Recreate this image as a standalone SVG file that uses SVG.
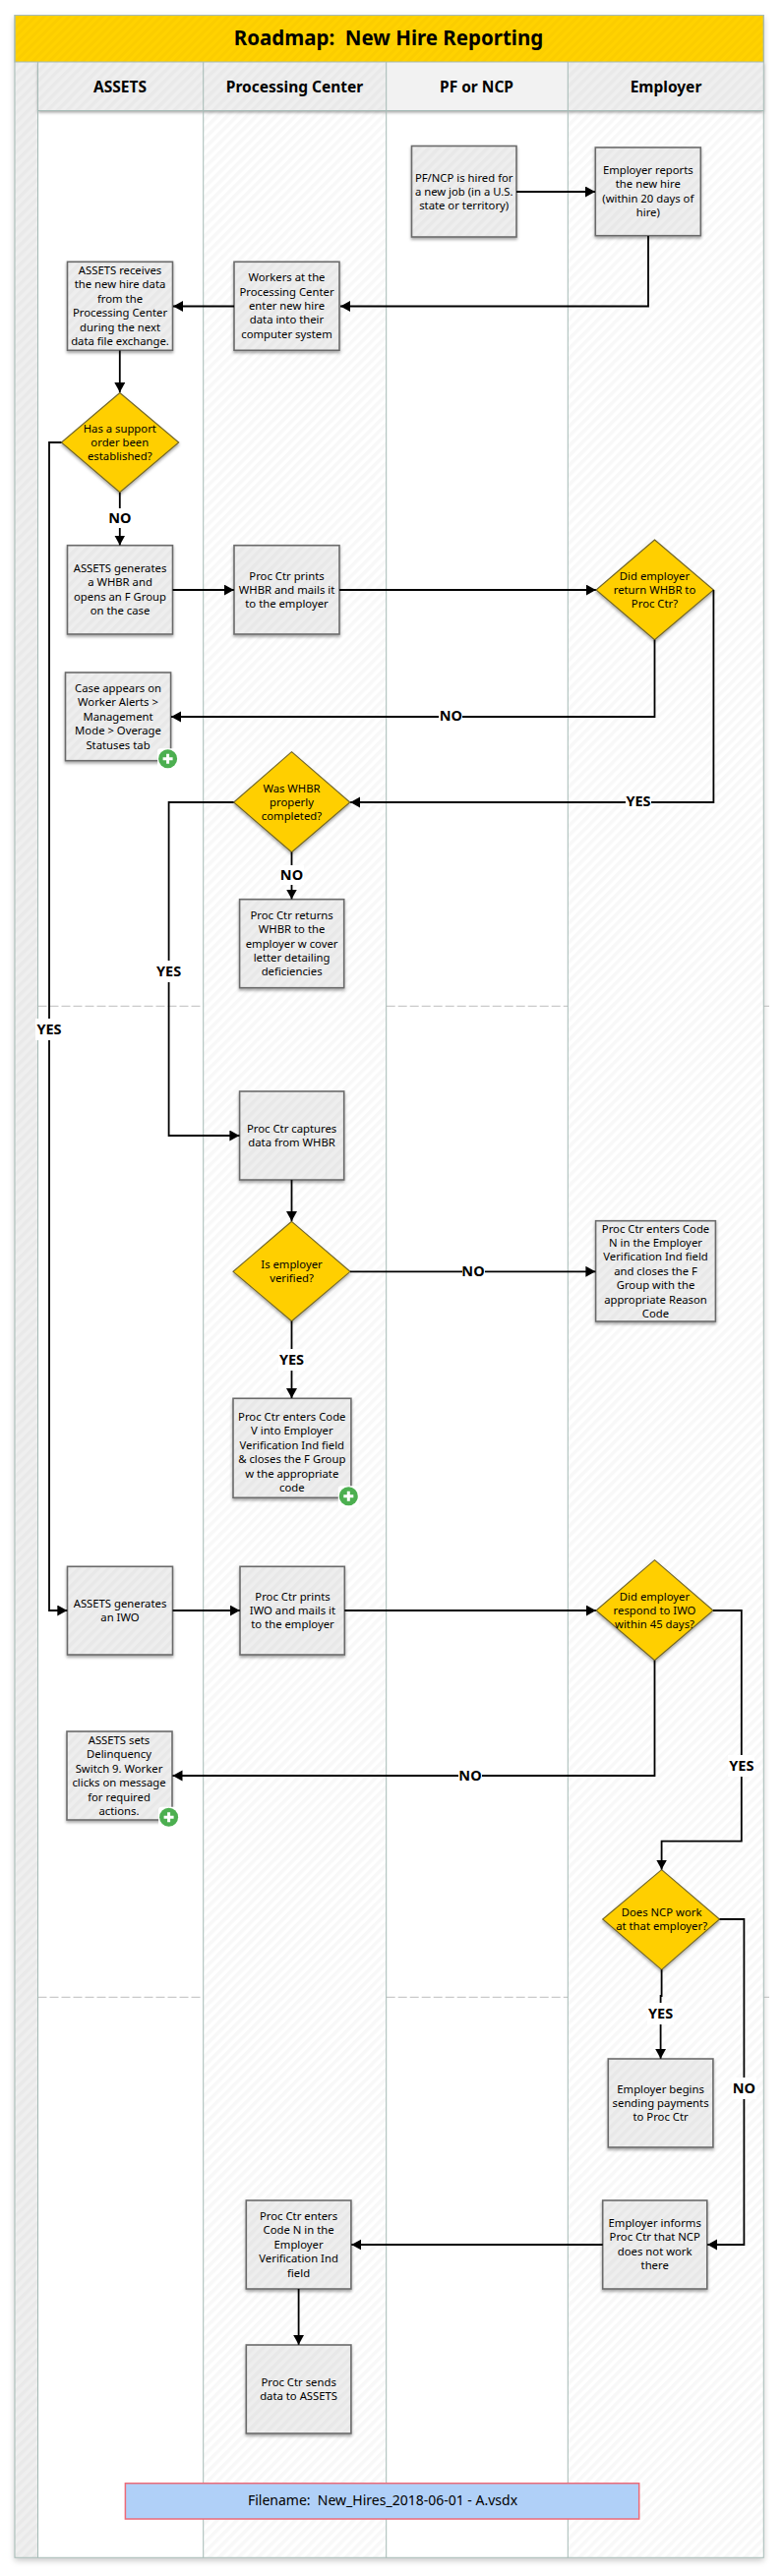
<svg xmlns="http://www.w3.org/2000/svg" width="796" height="2620" viewBox="0 0 796 2620">
<style>
text{font-family:"Noto Sans","Open Sans","Liberation Sans",sans-serif;fill:#000;text-anchor:middle;white-space:pre}
.t{font-size:11.3px}
.h{font-size:15.5px;font-weight:700}
.l{font-size:14.5px;font-weight:700}
.title{font-size:20.5px;font-weight:700}
.box{fill:url(#hb);stroke:#6b6b6b;stroke-width:1.6;filter:url(#sh)}
.dia{fill:#ffcf00;stroke:#6f6428;stroke-width:1.1;filter:url(#sh)}
.lane{stroke:#a6bbb6;stroke-width:1}
.c{fill:none;stroke:#000;stroke-width:1.8;marker-end:url(#a)}
.n{fill:none;stroke:#000;stroke-width:1.8}
.dash{stroke:#bdbdbd;stroke-width:1;stroke-dasharray:9 3}
.lb{fill:#fff}
</style>
<defs>
<pattern id="hy" width="6" height="6" patternUnits="userSpaceOnUse" patternTransform="rotate(45)"><rect width="6" height="6" fill="#ffd200"/><rect width="3" height="6" fill="#fbcd00"/></pattern>
<pattern id="hg" width="7" height="7" patternUnits="userSpaceOnUse" patternTransform="rotate(45)"><rect width="7" height="7" fill="#efefef"/><rect width="3.5" height="7" fill="#e9e9e9"/></pattern>
<pattern id="hb" width="7" height="7" patternUnits="userSpaceOnUse" patternTransform="rotate(45)"><rect width="7" height="7" fill="#eeeeee"/><rect width="3.5" height="7" fill="#e8e8e8"/></pattern>
<pattern id="hw" width="7" height="7" patternUnits="userSpaceOnUse" patternTransform="rotate(45)"><rect width="7" height="7" fill="#ffffff"/><rect width="3.5" height="7" fill="#f8f8f8"/></pattern>
<filter id="sh" x="-15%" y="-15%" width="130%" height="130%"><feDropShadow dx="0" dy="2" stdDeviation="1.5" flood-color="#000" flood-opacity=".35"/></filter>
<filter id="sl" x="-3%" y="-1%" width="106%" height="102%"><feDropShadow dx="0" dy="3" stdDeviation="3" flood-color="#000" flood-opacity=".22"/></filter>
<marker id="a" markerUnits="userSpaceOnUse" markerWidth="11" markerHeight="12" refX="10" refY="5.5" orient="auto"><path d="M0 0L10 5.5L0 11z" fill="#000"/></marker>
<g id="plus"><rect x="-10.5" y="-10.5" width="21" height="22" rx="3" fill="#fff"/><circle r="9.5" fill="#4caf50"/><path d="M-5 0H5M0-5V5" stroke="#fff" stroke-width="3" fill="none"/></g>
</defs>

<g id="swimlanes">
<rect x="15" y="15.5" width="761.3" height="2585.8" fill="#fff" filter="url(#sl)"/>
<rect x="15" y="63" width="23.5" height="2538.3" fill="url(#hg)"/>
<rect x="206.7" y="112.5" width="186" height="2488.8" fill="url(#hw)"/>
<rect x="577.3" y="112.5" width="199" height="2488.8" fill="url(#hw)"/>
<line class="dash" x1="38.5" y1="1023.3" x2="206.7" y2="1023.3"/>
<line class="dash" x1="392.7" y1="1023.3" x2="577.3" y2="1023.3"/>
<line class="dash" x1="776.3" y1="1023.3" x2="782" y2="1023.3"/>
<line class="dash" x1="38.5" y1="2031.3" x2="206.7" y2="2031.3"/>
<line class="dash" x1="392.7" y1="2031.3" x2="577.3" y2="2031.3"/>
<line class="dash" x1="776.3" y1="2031.3" x2="782" y2="2031.3"/>
<g filter="url(#sh)">
<rect x="38.5" y="63" width="168.2" height="49.5" fill="url(#hg)"/>
<rect x="206.7" y="63" width="186" height="49.5" fill="url(#hg)"/>
<rect x="392.7" y="63" width="184.6" height="49.5" fill="#f2f2f2"/>
<rect x="577.3" y="63" width="199" height="49.5" fill="url(#hg)"/>
</g>
<path class="lane" fill="none" d="M38.5 63V2601.3M206.7 63V2601.3M392.7 63V2601.3M577.3 63V2601.3M38.5 112.5H776.3"/>
<rect x="15" y="15.5" width="761.3" height="47.5" fill="url(#hy)" class="lane"/>
<rect x="15" y="15.5" width="761.3" height="2585.8" fill="none" class="lane"/>
<text class="title" x="395" y="46">Roadmap:  New Hire Reporting</text>
<text class="h" x="122" y="93.5">ASSETS</text>
<text class="h" x="299.5" y="93.5">Processing Center</text>
<text class="h" x="484.5" y="93.5">PF or NCP</text>
<text class="h" x="677" y="93.5">Employer</text>
</g>

<g id="n-pf"><rect class="box" x="418.5" y="148.5" width="106.5" height="92.5"/><text class="t" y="184.6"><tspan x="471.7">PF/NCP is hired for</tspan><tspan x="471.7" dy="14.4">a new job (in a U.S.</tspan><tspan x="471.7" dy="14.4">state or territory)</tspan></text></g>
<g id="n-emp-reports"><rect class="box" x="605.3" y="150" width="107" height="89.7"/><text class="t" y="176.9"><tspan x="658.8">Employer reports</tspan><tspan x="658.8" dy="14.4">the new hire</tspan><tspan x="658.8" dy="14.4">(within 20 days of</tspan><tspan x="658.8" dy="14.4">hire)</tspan></text></g>
<g id="n-assets-rec"><rect class="box" x="68.5" y="266.3" width="107" height="90"/><text class="t" y="279"><tspan x="122">ASSETS receives</tspan><tspan x="122" dy="14.4">the new hire data</tspan><tspan x="122" dy="14.4">from the</tspan><tspan x="122" dy="14.4">Processing Center</tspan><tspan x="122" dy="14.4">during the next</tspan><tspan x="122" dy="14.4">data file exchange.</tspan></text></g>
<g id="n-workers"><rect class="box" x="238" y="266.3" width="107" height="90"/><text class="t" y="286.2"><tspan x="291.5">Workers at the</tspan><tspan x="291.5" dy="14.4">Processing Center</tspan><tspan x="291.5" dy="14.4">enter new hire</tspan><tspan x="291.5" dy="14.4">data into their</tspan><tspan x="291.5" dy="14.4">computer system</tspan></text></g>
<g id="d-support"><path class="dia" d="M121.8 399.5L181.7 450L121.8 500.7L62.4 450z"/><text class="t" y="439.6"><tspan x="121.8">Has a support</tspan><tspan x="121.8" dy="14.4">order been</tspan><tspan x="121.8" dy="14.4">established?</tspan></text></g>
<g id="n-assets-gen"><rect class="box" x="68.5" y="554.7" width="107" height="90.3"/><text class="t" y="581.9"><tspan x="122">ASSETS generates</tspan><tspan x="122" dy="14.4">a WHBR and</tspan><tspan x="122" dy="14.4">opens an F Group</tspan><tspan x="122" dy="14.4">on the case</tspan></text></g>
<g id="n-prints-whbr"><rect class="box" x="238" y="554.7" width="107" height="90.3"/><text class="t" y="589.6"><tspan x="291.5">Proc Ctr prints</tspan><tspan x="291.5" dy="14.4">WHBR and mails it</tspan><tspan x="291.5" dy="14.4">to the employer</tspan></text></g>
<g id="d-return"><path class="dia" d="M665.5 549L725.4 600L665.5 650.7L606 600z"/><text class="t" y="589.6"><tspan x="665.5">Did employer</tspan><tspan x="665.5" dy="14.4">return WHBR to</tspan><tspan x="665.5" dy="14.4">Proc Ctr?</tspan></text></g>
<g id="n-case"><rect class="box" x="66.5" y="684" width="107.1" height="89.7"/><text class="t" y="704"><tspan x="120">Case appears on</tspan><tspan x="120" dy="14.4">Worker Alerts &gt;</tspan><tspan x="120" dy="14.4">Management</tspan><tspan x="120" dy="14.4">Mode &gt; Overage</tspan><tspan x="120" dy="14.4">Statuses tab</tspan></text><use href="#plus" x="170.6" y="771.7"/></g>
<g id="d-whbr"><path class="dia" d="M296.5 764.7L355.8 816L296.5 866.7L237.6 816z"/><text class="t" y="805.6"><tspan x="296.5">Was WHBR</tspan><tspan x="296.5" dy="14.4">properly</tspan><tspan x="296.5" dy="14.4">completed?</tspan></text></g>
<g id="n-returns"><rect class="box" x="243.6" y="914.7" width="106.1" height="90"/><text class="t" y="934.8"><tspan x="296.6">Proc Ctr returns</tspan><tspan x="296.6" dy="14.4">WHBR to the</tspan><tspan x="296.6" dy="14.4">employer w cover</tspan><tspan x="296.6" dy="14.4">letter detailing</tspan><tspan x="296.6" dy="14.4">deficiencies</tspan></text></g>
<g id="n-captures"><rect class="box" x="243.6" y="1110" width="106.1" height="90"/><text class="t" y="1151.8"><tspan x="296.6">Proc Ctr captures</tspan><tspan x="296.6" dy="14.4">data from WHBR</tspan></text></g>
<g id="d-verified"><path class="dia" d="M296.5 1242.3L356 1293.3L296.5 1343.7L237 1293.3z"/><text class="t" y="1290"><tspan x="296.5">Is employer</tspan><tspan x="296.5" dy="14.4">verified?</tspan></text></g>
<g id="n-code-n"><rect class="box" x="605.6" y="1241.7" width="121.8" height="102.3"/><text class="t" y="1253.5"><tspan x="666.5">Proc Ctr enters Code</tspan><tspan x="666.5" dy="14.4">N in the Employer</tspan><tspan x="666.5" dy="14.4">Verification Ind field</tspan><tspan x="666.5" dy="14.4">and closes the F</tspan><tspan x="666.5" dy="14.4">Group with the</tspan><tspan x="666.5" dy="14.4">appropriate Reason</tspan><tspan x="666.5" dy="14.4">Code</tspan></text></g>
<g id="n-code-v"><rect class="box" x="237" y="1422.3" width="119.9" height="101"/><text class="t" y="1445"><tspan x="296.8">Proc Ctr enters Code</tspan><tspan x="296.8" dy="14.4">V into Employer</tspan><tspan x="296.8" dy="14.4">Verification Ind field</tspan><tspan x="296.8" dy="14.4">&amp; closes the F Group</tspan><tspan x="296.8" dy="14.4">w the appropriate</tspan><tspan x="296.8" dy="14.4">code</tspan></text><use href="#plus" x="354.3" y="1521.7"/></g>
<g id="n-iwo-gen"><rect class="box" x="68.5" y="1593.3" width="107" height="89.7"/><text class="t" y="1634.8"><tspan x="122">ASSETS generates</tspan><tspan x="122" dy="14.4">an IWO</tspan></text></g>
<g id="n-iwo-prints"><rect class="box" x="244" y="1593.3" width="106.3" height="89.7"/><text class="t" y="1627.6"><tspan x="297.5">Proc Ctr prints</tspan><tspan x="297.5" dy="14.4">IWO and mails it</tspan><tspan x="297.5" dy="14.4">to the employer</tspan></text></g>
<g id="d-respond"><path class="dia" d="M665.5 1586.7L725 1638L665.5 1688.7L606 1638z"/><text class="t" y="1627.6"><tspan x="665.5">Did employer</tspan><tspan x="665.5" dy="14.4">respond to IWO</tspan><tspan x="665.5" dy="14.4">within 45 days?</tspan></text></g>
<g id="n-delinq"><rect class="box" x="68" y="1761" width="107" height="90"/><text class="t" y="1774"><tspan x="121">ASSETS sets</tspan><tspan x="121" dy="14.4">Delinquency</tspan><tspan x="121" dy="14.4">Switch 9. Worker</tspan><tspan x="121" dy="14.4">clicks on message</tspan><tspan x="121" dy="14.4">for required</tspan><tspan x="121" dy="14.4">actions.</tspan></text><use href="#plus" x="171.6" y="1848.3"/></g>
<g id="d-ncp"><path class="dia" d="M672.6 1901.7L731.5 1952L672.6 2003.3L612.7 1952z"/><text class="t" y="1948.8"><tspan x="672.6">Does NCP work</tspan><tspan x="672.6" dy="14.4">at that employer?</tspan></text></g>
<g id="n-begins"><rect class="box" x="618.3" y="2094" width="106.6" height="90"/><text class="t" y="2128.6"><tspan x="671.6">Employer begins</tspan><tspan x="671.6" dy="14.4">sending payments</tspan><tspan x="671.6" dy="14.4">to Proc Ctr</tspan></text></g>
<g id="n-proc-n"><rect class="box" x="250.3" y="2238" width="106.6" height="90"/><text class="t" y="2257.9"><tspan x="303.6">Proc Ctr enters</tspan><tspan x="303.6" dy="14.4">Code N in the</tspan><tspan x="303.6" dy="14.4">Employer</tspan><tspan x="303.6" dy="14.4">Verification Ind</tspan><tspan x="303.6" dy="14.4">field</tspan></text></g>
<g id="n-informs"><rect class="box" x="612.7" y="2238" width="106.1" height="90"/><text class="t" y="2264.9"><tspan x="665.7">Employer informs</tspan><tspan x="665.7" dy="14.4">Proc Ctr that NCP</tspan><tspan x="665.7" dy="14.4">does not work</tspan><tspan x="665.7" dy="14.4">there</tspan></text></g>
<g id="n-sends"><rect class="box" x="250.3" y="2385" width="106.6" height="90"/><text class="t" y="2426.8"><tspan x="303.6">Proc Ctr sends</tspan><tspan x="303.6" dy="14.4">data to ASSETS</tspan></text></g>
<g id="n-filename"><rect x="127.4" y="2525.7" width="522.3" height="36.3" fill="#b0d0f8" stroke="#ec6a78" stroke-width="1.5"/><text x="389" y="2547.7" font-size="14">Filename:  New_Hires_2018-06-01 - A.vsdx</text></g>

<g id="connectors">
<path class="c" d="M525 195H605"/>
<path class="c" d="M659 240V311.5H346"/>
<path class="c" d="M238 311.5H176"/>
<path class="c" d="M121.8 356.5V399"/>
<path class="c" d="M121.8 501V554.5"/>
<path class="c" d="M62.4 450H50V1638H68.3"/>
<path class="c" d="M175.6 600H237.8"/>
<path class="c" d="M345 600H605.8"/>
<path class="c" d="M665.5 650.7V729H174"/>
<path class="c" d="M725.4 600V816H356.2"/>
<path class="c" d="M237.6 816H171.6V1155H243.4"/>
<path class="c" d="M296.5 866.7V914.5"/>
<path class="c" d="M296.5 1200V1242"/>
<path class="c" d="M356 1293.3H605.4"/>
<path class="c" d="M296.5 1343.7V1422"/>
<path class="c" d="M175.6 1638H243.8"/>
<path class="c" d="M350.3 1638H605.8"/>
<path class="c" d="M665.5 1688.7V1806H175.5"/>
<path class="c" d="M725 1638H753.8V1872.7H672.6V1901.5"/>
<path class="c" d="M672.6 2003.3V2030H671.6V2093.8"/>
<path class="c" d="M731.5 1952H756.4V2283H719.2"/>
<path class="c" d="M612.7 2283H357.3"/>
<path class="c" d="M303.6 2328V2384.8"/>
<rect class="lb" x="110" y="517" width="24" height="20"/><text class="l" x="121.8" y="532">NO</text>
<rect class="lb" x="36" y="1036" width="28" height="22"/><text class="l" x="50" y="1052">YES</text>
<rect class="lb" x="446" y="720" width="24" height="17"/><text class="l" x="458.4" y="733">NO</text>
<rect class="lb" x="636" y="806" width="26" height="17"/><text class="l" x="649" y="820">YES</text>
<rect class="lb" x="158" y="977" width="27" height="22"/><text class="l" x="171.6" y="993">YES</text>
<rect class="lb" x="285" y="880" width="24" height="20"/><text class="l" x="296.5" y="895">NO</text>
<rect class="lb" x="470" y="1284" width="23" height="17"/><text class="l" x="481" y="1297.5">NO</text>
<rect class="lb" x="283" y="1372" width="27" height="22"/><text class="l" x="296.5" y="1388">YES</text>
<rect class="lb" x="466" y="1797" width="24" height="17"/><text class="l" x="478" y="1811">NO</text>
<rect class="lb" x="740" y="1785" width="27" height="22"/><text class="l" x="753.8" y="1801">YES</text>
<rect class="lb" x="658" y="2037" width="27" height="22"/><text class="l" x="671.6" y="2053">YES</text>
<rect class="lb" x="744" y="2113" width="25" height="22"/><text class="l" x="756.4" y="2129">NO</text>
</g>
</svg>
